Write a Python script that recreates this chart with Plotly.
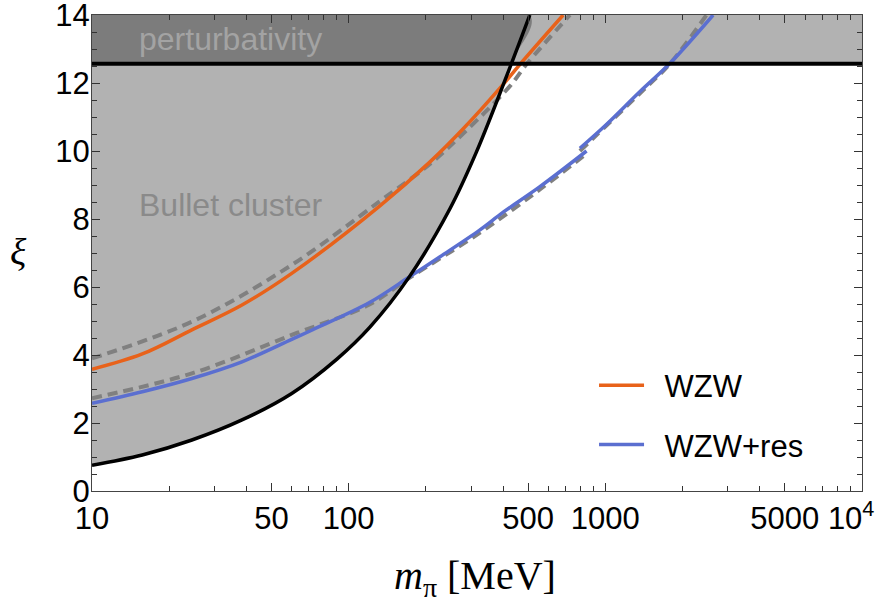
import math
import plotly.graph_objects as go

# ---- data ----
X_RANGE = [10, 10000]
Y_RANGE = [0, 14]
PERT = 4 * math.pi  # perturbativity bound

bullet_m = [10, 15.7, 24.5, 38.4, 60, 90, 121, 173, 248, 315, 431, 508]
bullet_xi = [0.76, 1.06, 1.50, 2.09, 2.87, 3.88, 4.82, 6.32, 8.30, 9.98, 12.58, 14.0]

wzw_m = [10, 15.7, 24.5, 38.4, 60, 132, 207.5, 280, 400, 465, 685]
wzw_xi = [3.58, 4.03, 4.74, 5.47, 6.40, 8.38, 9.68, 10.66, 11.96, 12.55, 14.0]

wzw_dash_m = [10, 24.5, 60, 132, 207.5, 280, 424, 493, 728]
wzw_dash_xi = [3.90, 4.98, 6.65, 8.52, 9.62, 10.52, 11.90, 12.55, 14.0]

res1_m = [10, 15.7, 24.5, 38.4, 60, 72.8, 121, 172.6, 227, 324.8, 400, 556, 845]
res1_xi = [2.58, 2.92, 3.31, 3.80, 4.46, 4.75, 5.55, 6.30, 6.89, 7.68, 8.20, 8.95, 10.0]
res2_m = [796, 1000, 1365, 1786, 2630]
res2_xi = [10.08, 10.75, 11.75, 12.58, 14.0]

res_dash1_m = [10, 24.5, 60, 120, 172.6, 325, 556, 845]
res_dash1_xi = [2.73, 3.46, 4.59, 5.48, 6.27, 7.60, 8.87, 9.92]
res_dash2_m = [796, 1365, 1786, 2478]
res_dash2_xi = [10.0, 11.70, 12.57, 14.0]

x_major = [10, 50, 100, 500, 1000, 5000, 10000]
x_major_text = ["10", "50", "100", "500", "1000", "5000", "10<sup>4</sup>\u2002\u2009"]
x_minor = [20, 30, 40, 60, 70, 80, 90, 200, 300, 400, 600, 700, 800, 900,
           2000, 3000, 4000, 6000, 7000, 8000, 9000]

ORANGE = "#e8621a"
BLUE = "#5b6fd0"
DASH_GRAY = "#808080"
FILL = "rgba(0,0,0,0.30)"

fig = go.Figure()

# Bullet cluster excluded region (above the black curve)
fig.add_trace(go.Scatter(
    x=bullet_m + [bullet_m[0]], y=bullet_xi + [Y_RANGE[1]],
    fill="toself", fillcolor=FILL, line=dict(width=0, shape="spline"), mode="lines",
    hoverinfo="skip", showlegend=False))

dash_style = dict(color=DASH_GRAY, width=4, dash="10px,6px")
for mm, xx in [(wzw_dash_m, wzw_dash_xi), (res_dash1_m, res_dash1_xi), (res_dash2_m, res_dash2_xi)]:
    fig.add_trace(go.Scatter(x=mm, y=xx, mode="lines", line=dict(shape="spline", **dash_style),
                             showlegend=False, hoverinfo="skip"))

fig.add_trace(go.Scatter(x=wzw_m, y=wzw_xi, mode="lines", name="\u2002WZW",
                         line=dict(color=ORANGE, width=3.5, shape="spline"),
                         legendgroup="a"))
fig.add_trace(go.Scatter(x=res1_m, y=res1_xi, mode="lines", name="\u2002WZW+res",
                         line=dict(color=BLUE, width=3.5, shape="spline"),
                         legendgroup="b"))
fig.add_trace(go.Scatter(x=res2_m, y=res2_xi, mode="lines", showlegend=False,
                         line=dict(color=BLUE, width=3.5, shape="spline"),
                         legendgroup="b"))

fig.add_trace(go.Scatter(x=bullet_m, y=bullet_xi, mode="lines",
                         line=dict(color="black", width=3.5, shape="spline"),
                         showlegend=False, hoverinfo="skip"))

# perturbativity band and line
fig.add_shape(type="rect", xref="paper", x0=0, x1=1, yref="y", y0=PERT, y1=Y_RANGE[1],
              fillcolor=FILL, line=dict(width=0), layer="below")
fig.add_shape(type="line", xref="paper", x0=0, x1=1, yref="y", y0=PERT, y1=PERT,
              line=dict(color="black", width=4), layer="above")

fig.add_annotation(text="perturbativity", xref="paper", yref="paper", x=0.059, y=0.950,
                   xanchor="left", yanchor="middle", showarrow=False,
                   font=dict(family="Liberation Sans, Arial", size=32, color="#a3a3a3"))
fig.add_annotation(text="Bullet cluster", xref="paper", yref="paper", x=0.059, y=0.601,
                   xanchor="left", yanchor="middle", showarrow=False,
                   font=dict(family="Liberation Sans, Arial", size=32, color="#8a8a8a"))

# axis titles
fig.add_annotation(text="<i>ξ</i>", xref="paper", yref="paper", x=-0.095, y=0.502,
                   xanchor="center", yanchor="middle", showarrow=False,
                   font=dict(family="Liberation Serif, DejaVu Serif", size=38, color="black"))
fig.add_annotation(text="<i>m</i><sub>π</sub> [MeV]", xref="paper", yref="paper", x=0.497, y=-0.182,
                   xanchor="center", yanchor="middle", showarrow=False,
                   font=dict(family="Liberation Serif, DejaVu Serif", size=40, color="black"))

tickfont = dict(family="Liberation Sans, Arial", size=31, color="black")
fig.update_xaxes(type="log", range=[math.log10(X_RANGE[0]), math.log10(X_RANGE[1])],
                 tickmode="array", tickvals=x_major, ticktext=x_major_text,
                 ticks="inside", ticklen=8, tickwidth=1, tickcolor="#333",
                 minor=dict(tickmode="array", tickvals=x_minor, ticks="inside", ticklen=5,
                            tickwidth=1, tickcolor="#333"),
                 showline=True, linecolor="#444", linewidth=1, mirror="ticks",
                 showgrid=False, zeroline=False, tickfont=tickfont, automargin=False,
                 ticklabeloverflow="allow")
fig.update_yaxes(range=Y_RANGE, dtick=2, tick0=0,
                 ticks="inside", ticklen=8, tickwidth=1, tickcolor="#333",
                 minor=dict(dtick=0.5, ticks="inside", ticklen=5, tickwidth=1, tickcolor="#333"),
                 showline=True, linecolor="#444", linewidth=1, mirror="ticks",
                 showgrid=False, zeroline=False, tickfont=tickfont, automargin=False,
                 ticklabelstandoff=-5, ticklabeloverflow="allow")

fig.update_layout(
    width=888, height=602,
    margin=dict(l=92, r=26, t=15, b=111, pad=0),
    paper_bgcolor="white", plot_bgcolor="white",
    legend=dict(x=0.652, y=0.278, xanchor="left", yanchor="top",
                font=dict(family="Liberation Sans, Arial", size=31, color="black"),
                bgcolor="rgba(0,0,0,0)", traceorder="grouped", tracegroupgap=16,
                itemwidth=45),
)

# remove the default 8px page margin so the figure fills the window exactly
fig.write_html("out.html", config={"displayModeBar": False},
               post_script="document.body.style.margin='0';document.body.style.overflow='hidden';")
